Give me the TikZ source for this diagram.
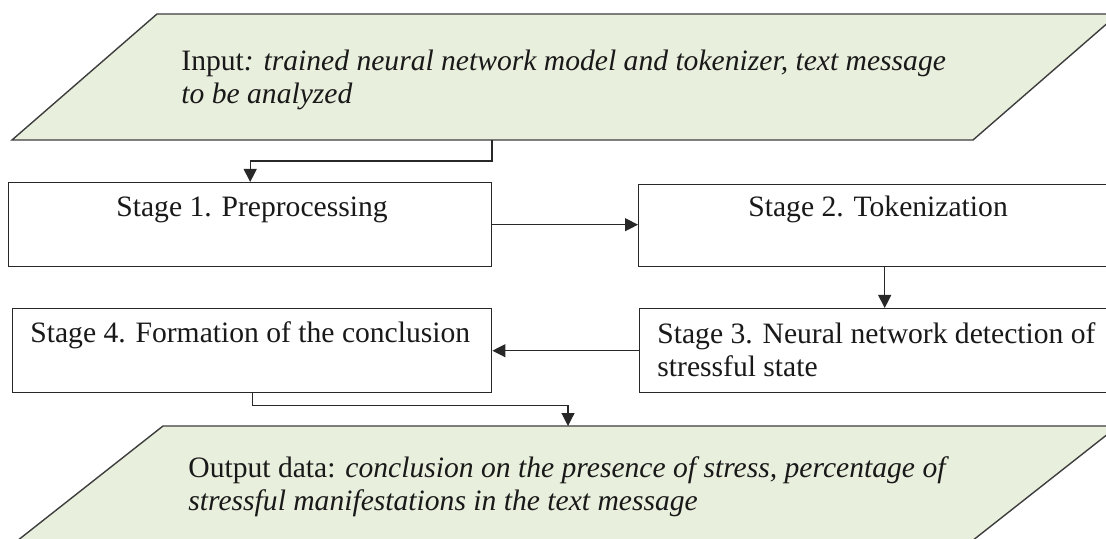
\documentclass[tikz,border=0pt]{standalone}
\usepackage{fontspec}
\setmainfont{Liberation Serif}
\usetikzlibrary{arrows.meta,calc}
\definecolor{datafill}{RGB}{233,239,221}
\definecolor{inkline}{RGB}{40,40,40}
\definecolor{inktext}{RGB}{25,25,25}
\begin{document}
\begin{tikzpicture}[x=0.5pt,y=-0.5pt,
  txt/.style={font=\fontsize{14.8}{16.4}\selectfont, text=inktext, inner sep=0pt},
  oneline/.style={txt, anchor=base west},
  twoline/.style={txt, anchor=north west, align=left},
  stagebox/.style={draw=inkline, line width=0.7pt, rectangle, inner sep=0pt, anchor=north west},
  databox/.style={draw=inkline!90, fill=datafill, line width=0.7pt, line join=miter},
  flow/.style={draw=inkline, line width=0.6pt, -{Triangle[length=6.5pt,width=6.5pt]}}
]
\useasboundingbox (0,0) rectangle (1106,539);
\fill[white] (0,0) rectangle (1106,539);
\clip (0,0) rectangle (1106,539);

% input and output data blocks (parallelograms)
\path[databox] (157,14) -- (1118,14) -- (973,140) -- (12,140) -- cycle;
\path[databox] (163,426) -- (1118,426) -- (958,552) -- (3,552) -- cycle;
\coordinate (inbot) at (492,140);
\coordinate (outtop) at (568,426);

% processing stages
\node[stagebox, minimum width=241.5pt, minimum height=42pt] (s1) at (8,182) {};
\node[stagebox, minimum width=246pt, minimum height=41pt] (s2) at (638,184) {};
\node[stagebox, minimum width=245.5pt, minimum height=42pt] (s3) at (639,308) {};
\node[stagebox, minimum width=239.5pt, minimum height=42pt] (s4) at (12,308) {};

% texts
\node[twoline] (tin) at (181,50) {Input\textit{: trained neural network model and tokenizer, text message}\\\textit{to be analyzed}};
\node[oneline] (t1) at (116,217) {Stage 1. Preprocessing};
\node[oneline] (t2) at (748,217) {Stage 2. Tokenization};
\node[twoline] (t3) at (657,322) {Stage 3. Neural network detection of\\stressful state};
\node[oneline] (t4) at (30,342) {Stage 4. Formation of the conclusion};
\node[twoline] (tout) at (188,456) {Output data: \textit{conclusion on the presence of stress, percentage of}\\\textit{stressful manifestations in the text message}};

% connectors
\draw[flow] (inbot) |- ($(s1.north)+(0,-21)$) -- (s1.north);
\draw[flow] (s1.east) -- (s1.east -| s2.west);
\draw[flow] (s2.south) -- (s2.south |- s3.north);
\draw[flow] (s3.west) -- (s3.west -| s4.east);
\draw[flow] (s4.south) -- ++(0,12) -| (outtop);
\end{tikzpicture}
\end{document}
